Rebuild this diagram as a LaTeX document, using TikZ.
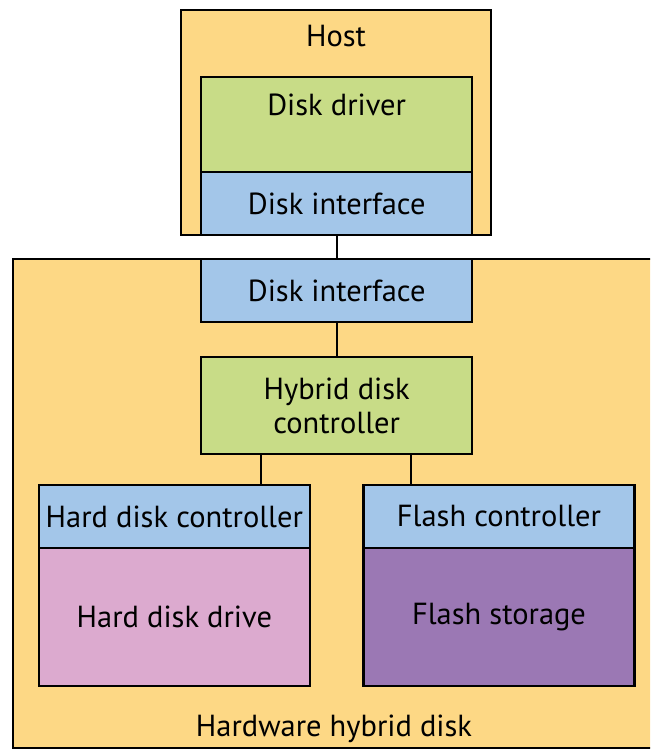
\documentclass[tikz,border=0pt]{standalone}
\usepackage{fontspec}
\setmainfont{PT Sans}
\usetikzlibrary{positioning}
\definecolor{boxorange}{RGB}{253,216,133}
\definecolor{boxgreen}{RGB}{200,220,135}
\definecolor{boxblue}{RGB}{163,198,233}
\definecolor{boxpink}{RGB}{220,170,207}
\definecolor{boxpurple}{RGB}{155,120,180}
\tikzset{auto, node distance=0pt, font=\fontsize{26}{29}\selectfont}
\tikzset{block/.style={draw, line width=2pt, rectangle, outer sep=0pt, inner sep=0pt, text centered, align=center}}
\tikzset{container/.style={block, fill=boxorange}}
\tikzset{wide/.style={block, minimum width=8.13cm}}
\tikzset{title/.style={inner sep=0pt}}
\begin{document}
\begin{tikzpicture}
    \clip (0,0) rectangle (19.5,22.5);
    % outer boxes
    \node [container, minimum width=9.3cm, minimum height=6.75cm, anchor=north] (host) at (10.08,22.2) {};
    \node [title, below=0.45cm of host.north] (hostlbl) {Host};
    \node [container, minimum width=19.5cm, minimum height=14.67cm, anchor=north west] (hwdisk) at (0.39,14.73) {};
    \node [title, above=0.15cm of hwdisk.south, xshift=-0.12cm] (hwlbl) {Hardware hybrid disk};

    % host side
    \node [wide, fill=boxgreen, minimum height=2.85cm, anchor=north] (driver) at (10.1,20.19) {};
    \node [title, below=0.5cm of driver.north] (driverlbl) {Disk driver};
    \node [wide, fill=boxblue, minimum height=1.89cm, below=of driver] (hostif) {Disk interface};

    % disk side
    \node [wide, fill=boxblue, minimum height=1.89cm, below=0.72cm of hostif] (diskif) {Disk interface};
    \node [wide, fill=boxgreen, minimum height=2.91cm, below=1.05cm of diskif] (hybrid) {Hybrid disk\\controller};
    \node [wide, fill=boxblue, minimum height=1.89cm, below=0.93cm of hybrid, xshift=-4.87cm] (hdctrl) {Hard disk controller};
    \node [wide, fill=boxpink, minimum height=4.14cm, below=of hdctrl] (hdd) {Hard disk drive};
    \node [wide, fill=boxblue, minimum height=1.89cm, below=0.93cm of hybrid, xshift=4.87cm] (flctrl) {Flash controller};
    \node [wide, fill=boxpurple, minimum height=4.14cm, below=of flctrl] (flash) {Flash storage};

    \draw [line width=2pt] (hostif) -- (diskif);
    \draw [line width=2pt] (diskif) -- (hybrid);
    \draw [line width=2pt] ([xshift=1.8cm]hybrid.south west) -- ([xshift=1.8cm]hybrid.south west |- hdctrl.north);
    \draw [line width=2pt] ([xshift=-1.83cm]hybrid.south east) -- ([xshift=-1.83cm]hybrid.south east |- flctrl.north);
\end{tikzpicture}
\end{document}
